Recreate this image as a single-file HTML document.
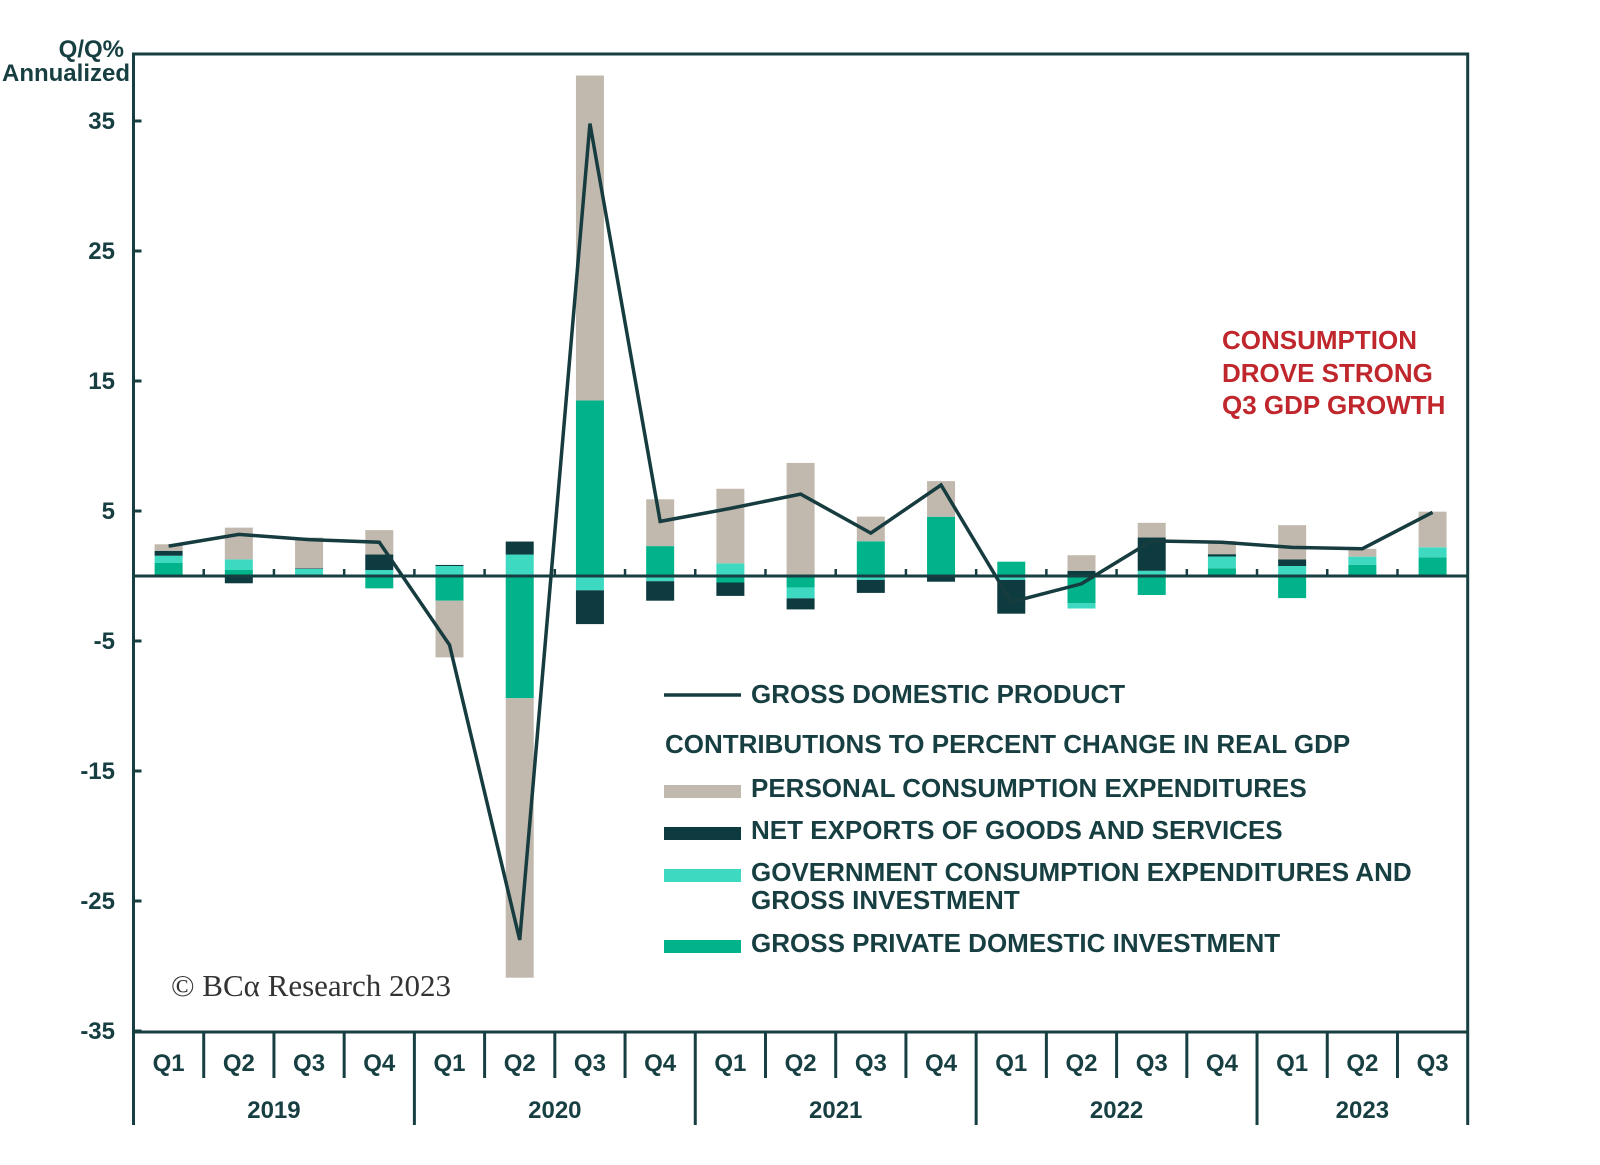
<!DOCTYPE html>
<html><head><meta charset="utf-8"><style>
body{margin:0;background:#fff;}
svg text{font-family:"Liberation Sans",sans-serif;}
</style></head><body>
<svg id="chart" width="1600" height="1160" viewBox="0 0 1600 1160" xmlns="http://www.w3.org/2000/svg">
<g id="plot"></g>
<text x="124" y="57" text-anchor="end" font-size="24" font-weight="bold" fill="#173f42">Q/Q%</text>
<text x="130" y="81" text-anchor="end" font-size="24" font-weight="bold" fill="#173f42">Annualized</text>
<g fill="#c0272d" font-size="26" font-weight="bold">
<text x="1222" y="349">CONSUMPTION</text><text x="1222" y="382">DROVE STRONG</text><text x="1222" y="414">Q3 GDP GROWTH</text></g>
<text x="171" y="996" font-size="31" fill="#333" style="font-family:'Liberation Serif',serif">© BCα Research 2023</text>
<g font-size="26" font-weight="bold" fill="#173f42">
<line x1="664" y1="695" x2="741" y2="695" stroke="#163c3f" stroke-width="3.5"/>
<text x="751" y="703">GROSS DOMESTIC PRODUCT</text>
<text x="665" y="753">CONTRIBUTIONS TO PERCENT CHANGE IN REAL GDP</text>
<rect x="664" y="785" width="77" height="13" fill="#c2b9ae"/>
<text x="751" y="797">PERSONAL CONSUMPTION EXPENDITURES</text>
<rect x="664" y="827" width="77" height="13" fill="#0d3b40"/>
<text x="751" y="839">NET EXPORTS OF GOODS AND SERVICES</text>
<rect x="664" y="869" width="77" height="13" fill="#3dd9c1"/>
<text x="751" y="881">GOVERNMENT CONSUMPTION EXPENDITURES AND</text>
<text x="751" y="909">GROSS INVESTMENT</text>
<rect x="664" y="940" width="77" height="13" fill="#00b38a"/>
<text x="751" y="952">GROSS PRIVATE DOMESTIC INVESTMENT</text>
</g>
</svg>
<script>
const quarters=["Q1","Q2","Q3","Q4","Q1","Q2","Q3","Q4","Q1","Q2","Q3","Q4","Q1","Q2","Q3","Q4","Q1","Q2","Q3"];
const years=["2019","2020","2021","2022","2023"];
const gdp=[2.3,3.2,2.8,2.6,-5.3,-28.0,34.8,4.2,5.2,6.3,3.3,7.0,-2.0,-0.6,2.7,2.6,2.2,2.1,4.9];
const gpdi=[1.0,0.46,0.1,-0.95,-1.9,-9.4,13.5,2.3,-0.5,-0.9,2.67,4.56,1.1,-2.1,-1.46,0.6,-1.7,0.85,1.44];
const gov=[0.56,0.82,0.45,0.46,0.77,1.65,-1.1,-0.4,0.97,-0.82,-0.3,0.0,-0.3,-0.4,0.4,0.9,0.77,0.64,0.77];
const netx=[0.38,-0.56,0.05,1.2,0.08,1.0,-2.6,-1.5,-1.03,-0.85,-1.0,-0.44,-2.6,0.4,2.56,0.18,0.5,0.0,0.0];
const pce=[0.5,2.44,2.36,1.87,-4.36,-21.5,25.0,3.6,5.74,8.7,1.9,2.74,0.0,1.2,1.13,1.0,2.64,0.6,2.74];
const yTicks=[35,25,15,5,-5,-15,-25,-35];
const NS="http://www.w3.org/2000/svg";
const L=133.5,R=1467.7,T=54,B=1032,Y0=576,UNIT=13;
const qw=(R-L)/quarters.length;
const ys=v=>Y0-v*UNIT;
const xs=i=>L+qw*(i+0.5);
const g=document.getElementById('plot');
function mk(tag,a){const e=document.createElementNS(NS,tag);for(const k in a)e.setAttribute(k,a[k]);g.appendChild(e);return e;}
const series=[[gpdi,"#00b38a","gpdi"],[gov,"#3dd9c1","gov"],[netx,"#0d3b40","netx"],[pce,"#c2b9ae","pce"]];
quarters.forEach((q,i)=>{let pos=0,neg=0;
 series.forEach(([arr,c,n])=>{const v=arr[i];if(!v)return;let y0,y1;
  if(v>0){y0=pos;pos+=v;y1=pos;}else{y0=neg;neg+=v;y1=neg;}
  const r=mk('rect',{x:xs(i)-14,y:Math.min(ys(y0),ys(y1)),width:28,height:Math.abs(ys(y1)-ys(y0)),fill:c});
  
  
 });});
const fr=mk('path',{d:`M${L} ${B}V${T}H${R}V${B}`,fill:'none',stroke:'#173f42','stroke-width':3});


const xb=mk('line',{x1:L,y1:B,x2:R,y2:B,stroke:'#173f42','stroke-width':3});


const zl=mk('line',{x1:L,y1:Y0,x2:R,y2:Y0,stroke:'#173f42','stroke-width':3});


yTicks.forEach(t=>{
 const tk=mk('line',{x1:L,y1:ys(t),x2:L+8,y2:ys(t),stroke:'#173f42','stroke-width':3});
 
 
 const tx=mk('text',{x:115,y:ys(t)+8,'text-anchor':'end','font-size':24,'font-weight':'bold',fill:'#173f42'});
 tx.textContent=t;
 
 
});
quarters.forEach((q,i)=>{
 if(i>0){const bx=L+qw*i;const yr=i%4===0;
  const sl=mk('line',{x1:bx,y1:B,x2:bx,y2:yr?1125:1078,stroke:'#173f42','stroke-width':3});
  
  
  const zt=mk('line',{x1:bx,y1:Y0,x2:bx,y2:Y0-7,stroke:'#173f42','stroke-width':2.5});
  
  }
 const t=mk('text',{x:xs(i),y:1071,'text-anchor':'middle','font-size':24,'font-weight':'bold',fill:'#173f42'});
 t.textContent=q;
 
 
});
[L,R].forEach(bx=>{const e=mk('line',{x1:bx,y1:B,x2:bx,y2:1125,stroke:'#173f42','stroke-width':3});
 
 });
years.forEach((y,k)=>{const s=k*4,e=Math.min(s+4,quarters.length);
 const t=mk('text',{x:L+qw*(s+e)/2,y:1118,'text-anchor':'middle','font-size':24,'font-weight':'bold',fill:'#173f42'});
 t.textContent=y;
 
 });
const ln=mk('polyline',{points:gdp.map((v,i)=>xs(i)+','+ys(v)).join(' '),fill:'none',stroke:'#163c3f','stroke-width':3.5,'stroke-linejoin':'miter'});


</script>
</body></html>
